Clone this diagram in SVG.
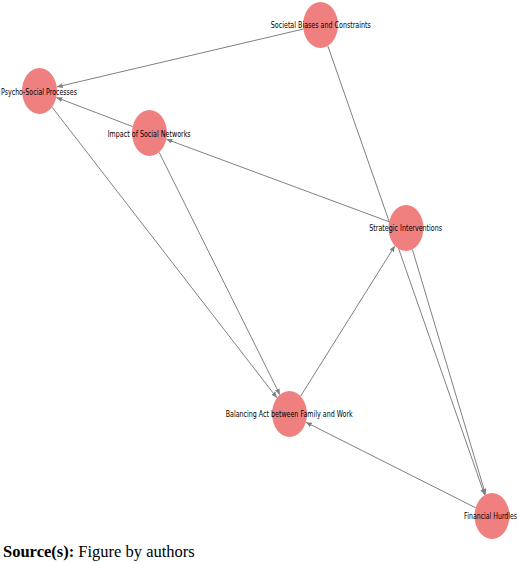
<svg xmlns="http://www.w3.org/2000/svg" width="520" height="562" viewBox="0 0 520 562">
<style>
.edge{stroke:#808080;stroke-width:1;fill:none;marker-end:url(#ah)}
.node{fill:#F08080}
.lbl{font-family:"DejaVu Sans","Liberation Sans",sans-serif;font-size:9.5px;fill:#000;text-anchor:middle}
.src{font-family:"Liberation Serif","Times New Roman",serif;font-size:16.5px;fill:#000}
</style>
<defs>
<marker id="ah" markerUnits="userSpaceOnUse" markerWidth="6" markerHeight="5" viewBox="0 0 6 5" refX="6" refY="2.5" orient="auto">
<path d="M0,0 L6,2.5 L0,5 z" fill="#808080"/>
</marker>
</defs>
<rect width="520" height="562" fill="#fff"/>
<g id="connectors">
<line class="edge" x1="303.3" y1="29.05" x2="56.7" y2="86.95"/>
<line class="edge" x1="132.7" y1="126.6" x2="56.3" y2="97.4"/>
<line class="edge" x1="52.0" y1="107.1" x2="277.0" y2="397.9"/>
<line class="edge" x1="159.1" y1="152.25" x2="279.9" y2="394.75"/>
<line class="edge" x1="389.2" y1="221.8" x2="166.3" y2="139.2"/>
<line class="edge" x1="327.8" y1="45.9" x2="484.7" y2="495.1"/>
<line class="edge" x1="412.4" y1="249.4" x2="485.6" y2="494.6"/>
<line class="edge" x1="300.6" y1="396.2" x2="394.9" y2="245.8"/>
<line class="edge" x1="475.7" y1="507.8" x2="305.8" y2="422.2"/>
</g>
<g id="node-psycho">
<ellipse class="node" cx="39.5" cy="91" rx="17.5" ry="23"/>
<text class="lbl" x="39" y="94.5" textLength="76" lengthAdjust="spacingAndGlyphs">Psycho-Social Processes</text>
</g>
<g id="node-impact">
<ellipse class="node" cx="149.5" cy="133" rx="17.5" ry="23"/>
<text class="lbl" x="149.2" y="136.5" textLength="83" lengthAdjust="spacingAndGlyphs">Impact of Social Networks</text>
</g>
<g id="node-societal">
<ellipse class="node" cx="320.5" cy="25" rx="17.5" ry="23"/>
<text class="lbl" x="320.8" y="27.5" textLength="100" lengthAdjust="spacingAndGlyphs">Societal Biases and Constraints</text>
</g>
<g id="node-strategic">
<ellipse class="node" cx="406" cy="228" rx="17.5" ry="23"/>
<text class="lbl" x="405.7" y="231.2" textLength="72.7" lengthAdjust="spacingAndGlyphs">Strategic Interventions</text>
</g>
<g id="node-balancing">
<ellipse class="node" cx="289.5" cy="414" rx="17.5" ry="23"/>
<text class="lbl" x="289.2" y="416.7" textLength="127" lengthAdjust="spacingAndGlyphs">Balancing Act between Family and Work</text>
</g>
<g id="node-financial">
<ellipse class="node" cx="492" cy="516" rx="17.5" ry="23"/>
<text class="lbl" x="490.6" y="519.2" textLength="53" lengthAdjust="spacingAndGlyphs">Financial Hurdles</text>
</g>
<text class="src" x="3" y="556.5"><tspan font-weight="bold">Source(s):</tspan> Figure by authors</text>
</svg>
